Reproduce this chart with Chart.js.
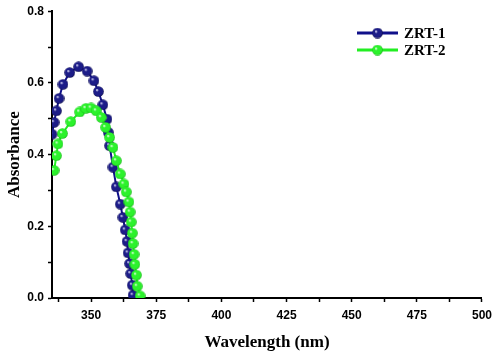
<!DOCTYPE html>
<html>
<head>
<meta charset="utf-8">
<script src="https://cdn.jsdelivr.net/npm/chart.js@4"></script>
<style>
html,body{margin:0;padding:0;background:#fff;}
#wrap{width:498px;height:357px;position:relative;}
</style>
</head>
<body>
<div id="wrap"><canvas id="c" width="498" height="357"></canvas></div>
<script>
// ---- data ----
const seriesNames = ['ZRT-1', 'ZRT-2'];
const zrt1Wavelength = [335.0, 335.8, 336.7, 337.7, 339.2, 341.8, 345.2, 348.5, 351.1, 352.8, 354.5, 356.1, 356.6, 357.1, 358.4, 359.7, 361.2, 362.2, 363.1, 363.8, 364.2, 364.8, 365.2, 365.8, 366.1];
const zrt1Absorbance = [0.457, 0.490, 0.522, 0.557, 0.596, 0.629, 0.645, 0.633, 0.606, 0.576, 0.539, 0.499, 0.462, 0.425, 0.365, 0.310, 0.262, 0.225, 0.190, 0.158, 0.126, 0.096, 0.068, 0.036, 0.008];
const zrt2Wavelength = [335.8, 336.7, 337.3, 339.0, 342.2, 345.6, 348.0, 350.0, 352.0, 353.9, 355.6, 357.1, 358.4, 359.7, 361.2, 362.6, 363.5, 364.5, 365.0, 365.4, 365.8, 366.1, 366.5, 366.8, 367.4, 367.7, 368.8];
const zrt2Absorbance = [0.356, 0.397, 0.430, 0.459, 0.492, 0.519, 0.529, 0.530, 0.522, 0.504, 0.476, 0.448, 0.420, 0.383, 0.346, 0.318, 0.296, 0.268, 0.240, 0.212, 0.181, 0.152, 0.122, 0.094, 0.064, 0.033, 0.006];
const xMajorTicks = [350, 375, 400, 425, 450, 475, 500];
const yMajorTicks = [0.0, 0.2, 0.4, 0.6, 0.8];

function sphere(base, dark, light) {
  const s = 11, cv = document.createElement('canvas');
  cv.width = s; cv.height = s;
  const g = cv.getContext('2d');
  const c = s / 2;
  const grad = g.createRadialGradient(c - 1.6, c - 1.6, 0.3, c, c, c);
  grad.addColorStop(0, light);
  grad.addColorStop(0.25, base);
  grad.addColorStop(0.78, base);
  grad.addColorStop(1, dark);
  g.fillStyle = grad;
  g.beginPath(); g.arc(c, c, c - 0.2, 0, Math.PI * 2); g.fill();
  return cv;
}
const blueBall = sphere('#1c1c88', '#080840', '#e6e6ff');
const greenBall = sphere('#2cf22c', '#12b012', '#f0fff0');
const colors = ['#10108a', '#22ee22'];
const balls = [blueBall, greenBall];

const pts = (xs, ys) => xs.map((x, i) => ({x: x, y: ys[i]}));

const legendPlugin = {
  id: 'customLegend',
  afterDraw(chart) {
    const ctx = chart.ctx;
    const x0 = 357, x1 = 398, tx = 404;
    const rows = [33, 50];
    ctx.save();
    rows.forEach((y, i) => {
      ctx.strokeStyle = colors[i];
      ctx.lineWidth = 3;
      ctx.beginPath(); ctx.moveTo(x0, y); ctx.lineTo(x1, y); ctx.stroke();
      ctx.drawImage(balls[i], (x0 + x1) / 2 - 5.5, y - 5.5);
      ctx.fillStyle = '#000';
      ctx.font = 'bold 15px "Liberation Serif", serif';
      ctx.textBaseline = 'middle';
      ctx.textAlign = 'left';
      ctx.fillText(seriesNames[i], tx, y + 1);
    });
    ctx.restore();
  }
};

const tickFont = {family: '"Liberation Sans", Arial, sans-serif', size: 12, weight: 'bold'};
const titleFont = {family: '"Liberation Serif", serif', size: 17, weight: 'bold'};

new Chart(document.getElementById('c'), {
  type: 'line',
  data: {
    datasets: [
      {label: seriesNames[0], data: pts(zrt1Wavelength, zrt1Absorbance), borderColor: colors[0], borderWidth: 2,
       pointStyle: blueBall, pointRadius: 5, order: 1},
      {label: seriesNames[1], data: pts(zrt2Wavelength, zrt2Absorbance), borderColor: colors[1], borderWidth: 2,
       pointStyle: greenBall, pointRadius: 5, order: 0}
    ]
  },
  options: {
    responsive: false,
    animation: false,
    devicePixelRatio: 1,
    layout: {padding: {left: 0, right: 14, top: 10, bottom: 0}},
    plugins: {legend: {display: false}, tooltip: {enabled: false}},
    scales: {
      x: {
        type: 'linear', min: 335, max: 500,
        afterBuildTicks(s) {
          const t = [];
          for (let v = 337.5; v <= 500; v += 12.5) t.push({value: v});
          s.ticks = t;
        },
        afterFit(s) { s.height = 59; },
        border: {display: true, color: '#000', width: 2},
        grid: {drawOnChartArea: false, drawTicks: true, tickLength: 4, color: '#000', tickWidth: 1.5},
        ticks: {
          color: '#000', font: tickFont, padding: 6, autoSkip: false, maxRotation: 0,
          callback: v => (xMajorTicks.includes(v) ? String(v) : '')
        },
        title: {display: true, text: 'Wavelength (nm)', color: '#000', font: titleFont, padding: {top: 7}}
      },
      y: {
        type: 'linear', min: 0, max: 0.8,
        afterBuildTicks(s) {
          const t = [];
          for (let k = 0; k <= 8; k++) t.push({value: k / 10});
          s.ticks = t;
        },
        afterFit(s) { s.width = 52; },
        border: {display: true, color: '#000', width: 2},
        grid: {drawOnChartArea: false, drawTicks: true, tickLength: 4, color: '#000', tickWidth: 1.5},
        ticks: {
          color: '#000', font: tickFont, padding: 4, autoSkip: false,
          callback: v => (yMajorTicks.some(m => Math.abs(m - v) < 1e-9) ? v.toFixed(1) : '')
        },
        title: {display: true, text: 'Absorbance', color: '#000', font: titleFont, padding: {bottom: 2}}
      }
    }
  },
  plugins: [legendPlugin]
});
</script>
</body>
</html>
